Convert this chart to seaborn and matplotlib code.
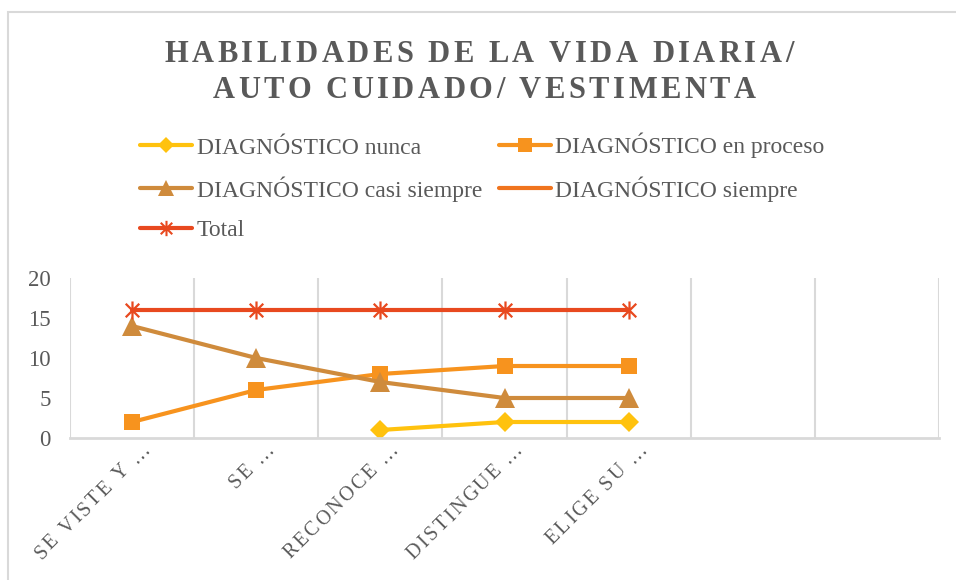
import numpy as np
import pandas as pd
import matplotlib
matplotlib.use("Agg")
import matplotlib.pyplot as plt
import seaborn as sns
from matplotlib.font_manager import FontProperties
from matplotlib.lines import Line2D
from matplotlib.path import Path
from matplotlib.patches import Rectangle

# datos
categorias = ["SE VISTE Y …", "SE …", "RECONOCE …", "DISTINGUE …", "ELIGE SU …", "", ""]
nunca = [np.nan, np.nan, 1, 2, 2, np.nan, np.nan]
en_proceso = [2, 6, 8, 9, 9, np.nan, np.nan]
casi_siempre = [14, 10, 7, 5, 5, np.nan, np.nan]
siempre = [np.nan] * 7
total = [16, 16, 16, 16, 16, np.nan, np.nan]

series = ["DIAGNÓSTICO nunca", "DIAGNÓSTICO en proceso", "DIAGNÓSTICO casi siempre",
          "DIAGNÓSTICO siempre", "Total"]
valores = [nunca, en_proceso, casi_siempre, siempre, total]

W, H = 956, 580
SERIF = "Liberation Serif"
GRIS = "#595959"

estrella = Path([(0, -1), (0, 1), (-0.75, -0.75), (0.75, 0.75), (-0.75, 0.75), (0.75, -0.75)],
                [Path.MOVETO, Path.LINETO, Path.MOVETO, Path.LINETO, Path.MOVETO, Path.LINETO])
estilos = {
    "DIAGNÓSTICO nunca": dict(color="#FFC20E", marker="D", ms=10),
    "DIAGNÓSTICO en proceso": dict(color="#F7931E", marker="s", ms=12),
    "DIAGNÓSTICO casi siempre": dict(color="#CF8B3C", marker="^", ms=14),
    "DIAGNÓSTICO siempre": dict(color="#F0741E", marker="x", ms=13),
    "Total": dict(color="#E8491F", marker=estrella, ms=13),
}

df = pd.DataFrame({"pos": np.tile(np.arange(len(categorias)), len(series)),
                   "serie": np.repeat(series, len(categorias)),
                   "valor": np.concatenate(valores)})

sns.set_theme(style="white")
plt.rcParams["font.family"] = [SERIF, "DejaVu Serif"]

fig = plt.figure(figsize=(W / 100, H / 100), dpi=100)
ax = fig.add_axes([70 / W, 1 - 438 / H, 869 / W, 160 / H])

for nombre in series:
    d = df[df["serie"] == nombre]
    if d["valor"].isna().all():
        continue
    e = estilos[nombre]
    filled = not isinstance(e["marker"], Path)
    sns.lineplot(data=d, x="pos", y="valor", ax=ax, color=e["color"], linewidth=3,
                 marker=e["marker"], markersize=e["ms"],
                 markeredgecolor=e["color"], markeredgewidth=0 if filled else 1.6)

ax.set_xlim(-0.5, len(categorias) - 0.5)
ax.set_ylim(0, 20)
ax.set_yticks([0, 5, 10, 15, 20])
ax.set_xticks(range(len(categorias)))
ax.set_xticklabels([])
ax.set_xticks(np.arange(-0.5, len(categorias), 1), minor=True)
ax.grid(which="minor", axis="x", color="#D9D9D9", lw=1.5)
ax.grid(which="major", visible=False)
ax.set_xlabel("")
ax.set_ylabel("")
ax.tick_params(which="both", length=0)
ax.tick_params(axis="y", labelsize=16.5, labelcolor=GRIS, pad=14)
for lado in ["top", "left", "right"]:
    ax.spines[lado].set_visible(False)
ax.spines["bottom"].set_color("#D9D9D9")
ax.spines["bottom"].set_linewidth(2)

fig.patches.append(Rectangle((8 / W, -0.05), 1.0, 1 - 12 / H + 0.05, transform=fig.transFigure,
                             fill=False, edgecolor="#D9D9D9", lw=1.5))

renderer = fig.canvas.get_renderer()


def texto_espaciado(x, y, s, size, espacio, weight="normal", angulo=0, ha="center"):
    """Dibuja texto con espacio entre letras (x, y en píxeles, origen abajo)."""
    prop = FontProperties(family=SERIF, size=size, weight=weight)

    def ancho(ch):
        if ch == " ":
            return (renderer.get_text_width_height_descent("H H", prop, False)[0]
                    - renderer.get_text_width_height_descent("HH", prop, False)[0])
        return renderer.get_text_width_height_descent(ch, prop, False)[0]

    anchos = [ancho(c) for c in s]
    largo = sum(anchos) + espacio * (len(s) - 1)
    dx, dy = np.cos(np.radians(angulo)), np.sin(np.radians(angulo))
    if ha == "center":
        x0, y0 = x - largo / 2 * dx, y - largo / 2 * dy
    else:
        x0, y0 = x - largo * dx, y - largo * dy
    pos = 0
    for c, w in zip(s, anchos):
        if c != " ":
            fig.text((x0 + pos * dx) / W, (y0 + pos * dy) / H, c, fontproperties=prop,
                     color=GRIS, rotation=angulo, rotation_mode="anchor",
                     ha="left", va="baseline")
        pos += w + espacio


texto_espaciado(479, H - 62, "HABILIDADES DE LA VIDA DIARIA/", 22, 3.5, weight="bold")
texto_espaciado(484, H - 98, "AUTO CUIDADO/ VESTIMENTA", 22, 3.5, weight="bold")

for i, etiqueta in enumerate(categorias):
    if not etiqueta:
        continue
    cx = ax.transData.transform((i, 0))[0]
    texto_espaciado(cx + 19, H - 450, etiqueta, 14.5, 2.3, angulo=45, ha="right")

orden = [0, 2, 4, 1, 3]
handles = []
for k in orden:
    e = estilos[series[k]]
    filled = not isinstance(e["marker"], Path)
    handles.append(Line2D([], [], color=e["color"], lw=3, marker=e["marker"], ms=e["ms"] * 0.85,
                          markeredgecolor=e["color"], markeredgewidth=0 if filled else 1.5))
leg = fig.legend(handles, [series[k] for k in orden], ncol=2, loc="upper left",
                 bbox_to_anchor=(140 / W, 1 - 133 / H), frameon=False, borderpad=0,
                 borderaxespad=0, handlelength=2.2, handletextpad=0.2, labelspacing=0.75,
                 columnspacing=0.7, numpoints=1, prop=FontProperties(family=SERIF, size=17))
for t in leg.get_texts():
    t.set_color(GRIS)

fig.savefig("out.png", dpi=100)
